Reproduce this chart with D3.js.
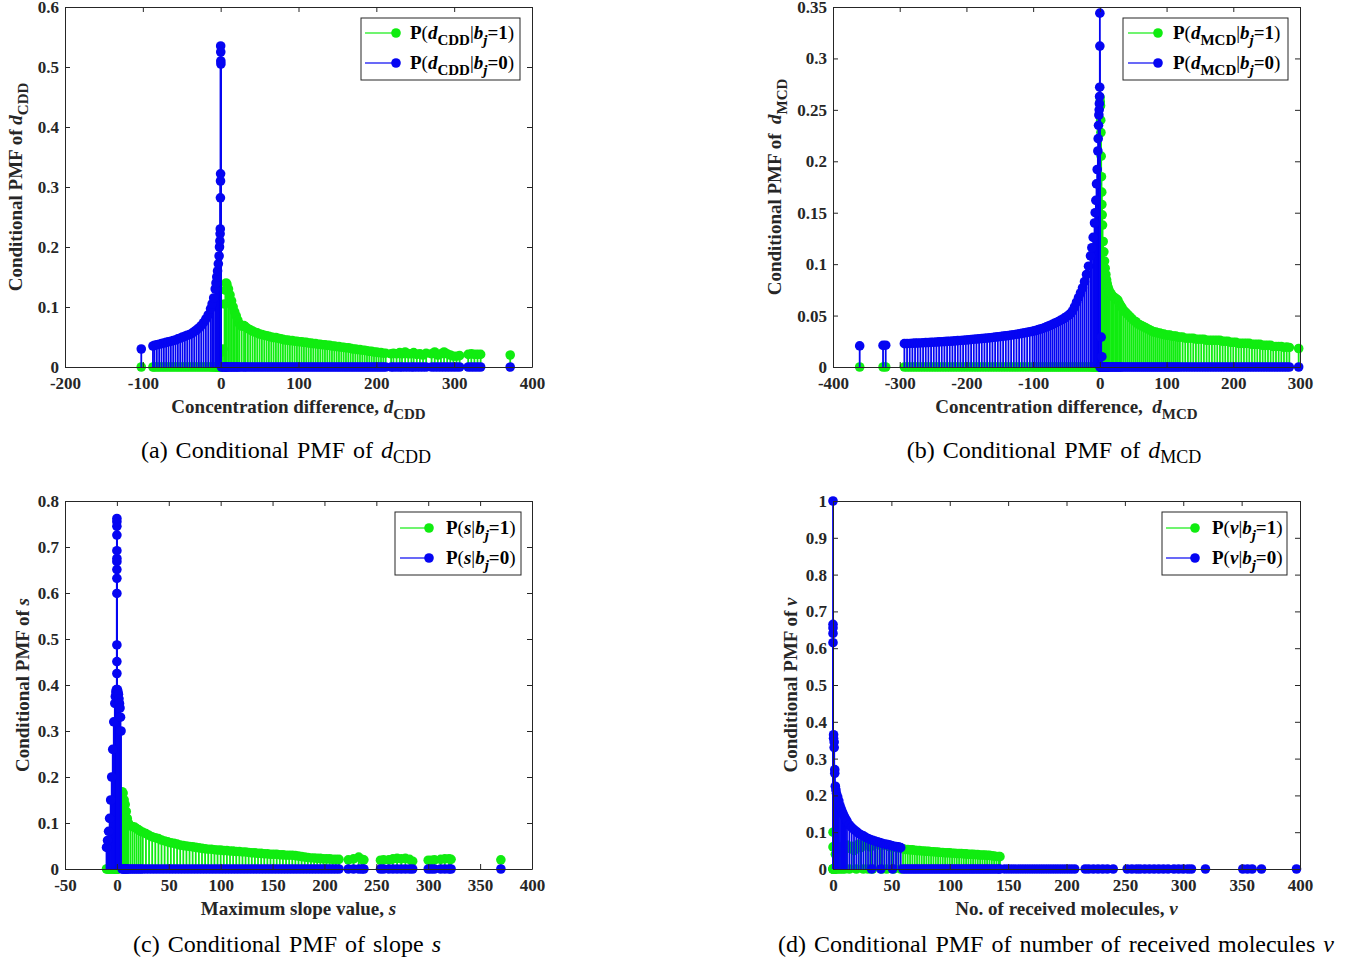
<!DOCTYPE html>
<html>
<head>
<meta charset="utf-8">
<script src="https://cdn.jsdelivr.net/npm/d3@7"></script>
<style>
  html, body { margin: 0; padding: 0; background: #ffffff; overflow: hidden; }
  svg { display: block; }
</style>
</head>
<body>
<script>
// ---------------------------------------------------------------------------
// (a) Concentration difference d_CDD: support, P(d|b=1), P(d|b=0)
// ---------------------------------------------------------------------------
const cddX = [
  -102, -87, -85, -82, -79, -76, -73, -70, -67, -64,
  -61, -58, -55, -52, -49, -46, -43, -40, -37, -34,
  -31, -28, -25, -22, -19, -16, -13, -11, -9, -7,
  -6, -5, -4, -3, -2, -1.5, -1, -0.7, -0.5, -0.3,
  -0.2, -0.1, 0, 0.1, 0.2, 0.3, 1, 3, 5, 6,
  7, 8, 10, 12, 14, 16, 18, 20, 22, 24,
  27, 30, 32, 35, 38, 41, 44, 47, 50, 53,
  56, 59, 62, 65, 68, 71, 74, 77, 80, 83,
  86, 89, 92, 95, 98, 101, 104, 107, 110, 113,
  116, 119, 122, 125, 128, 131, 134, 137, 140, 143,
  146, 149, 152, 155, 158, 161, 164, 167, 170, 173,
  176, 179, 182, 185, 188, 191, 194, 197, 200, 203,
  206, 209, 212, 219, 222, 226, 230, 233, 237, 241,
  245, 248, 252, 256, 260, 264, 271, 275, 279, 283,
  287, 291, 295, 299, 303, 307, 318, 322, 326, 330,
  334, 372
];
const cddOne = [
  0, 0, 0, 0, 0, 0, 0, 0, 0, 0,
  0, 0, 0, 0, 0, 0, 0, 0, 0, 0,
  0, 0, 0, 0, 0, 0, 0, 0, 0, 0,
  0, 0, 0, 0, 0, 0, 0, 0, 0, 0,
  0, 0, 0, 0, 0, 0, 0.025, 0.030, 0.105, 0.128,
  0.140, 0.138, 0.130, 0.120, 0.110, 0.100, 0.092, 0.085, 0.078, 0.072,
  0.068, 0.069, 0.067, 0.064, 0.062, 0.060, 0.058, 0.057, 0.055, 0.054,
  0.053, 0.052, 0.051, 0.050, 0.049, 0.049, 0.048, 0.047, 0.046, 0.045,
  0.045, 0.044, 0.044, 0.043, 0.043, 0.042, 0.042, 0.041, 0.041, 0.040,
  0.040, 0.039, 0.039, 0.038, 0.038, 0.037, 0.037, 0.036, 0.036, 0.035,
  0.035, 0.034, 0.034, 0.033, 0.033, 0.032, 0.032, 0.031, 0.030, 0.030,
  0.029, 0.029, 0.028, 0.028, 0.027, 0.026, 0.026, 0.025, 0.025, 0.024,
  0.024, 0.023, 0.023, 0.022, 0.023, 0.022, 0.024, 0.022, 0.025, 0.022,
  0.022, 0.024, 0.021, 0.022, 0.020, 0.023, 0.022, 0.025, 0.020, 0.022,
  0.025, 0.022, 0.020, 0.018, 0.018, 0.019, 0.021, 0.022, 0.021, 0.021,
  0.021, 0.020
];
const cddZero = [
  0.030, 0.035, 0.036, 0.037, 0.038, 0.039, 0.040, 0.041, 0.042, 0.043,
  0.044, 0.045, 0.047, 0.048, 0.050, 0.051, 0.053, 0.054, 0.056, 0.059,
  0.062, 0.065, 0.069, 0.074, 0.080, 0.087, 0.097, 0.105, 0.115, 0.130,
  0.140, 0.150, 0.160, 0.172, 0.185, 0.200, 0.210, 0.222, 0.230, 0.282,
  0.310, 0.322, 0.535, 0.525, 0.510, 0.505, 0, 0, 0, 0,
  0, 0, 0, 0, 0, 0, 0, 0, 0, 0,
  0, 0, 0, 0, 0, 0, 0, 0, 0, 0,
  0, 0, 0, 0, 0, 0, 0, 0, 0, 0,
  0, 0, 0, 0, 0, 0, 0, 0, 0, 0,
  0, 0, 0, 0, 0, 0, 0, 0, 0, 0,
  0, 0, 0, 0, 0, 0, 0, 0, 0, 0,
  0, 0, 0, 0, 0, 0, 0, 0, 0, 0,
  0, 0, 0, 0, 0, 0, 0, 0, 0, 0,
  0, 0, 0, 0, 0, 0, 0, 0, 0, 0,
  0, 0, 0, 0, 0, 0, 0, 0, 0, 0,
  0, 0
];
const cddXTicks = [-200, -100, 0, 100, 200, 300, 400];
const cddYTicks = [0, 0.1, 0.2, 0.3, 0.4, 0.5, 0.6];

// ---------------------------------------------------------------------------
// (b) Concentration difference d_MCD
// ---------------------------------------------------------------------------
const mcdX = [
  -360, -325, -321, -293, -289, -285, -281, -277, -273, -269,
  -265, -261, -257, -253, -249, -245, -241, -237, -233, -229,
  -225, -221, -217, -213, -209, -205, -201, -197, -193, -189,
  -185, -181, -177, -173, -169, -165, -161, -157, -153, -149,
  -145, -141, -137, -133, -129, -125, -121, -117, -113, -109,
  -105, -101, -98, -95, -92, -89, -86, -83, -80, -77,
  -74, -71, -68, -65, -62, -59, -56, -53, -50, -47,
  -44, -41, -38, -35, -32, -29, -26, -23, -20, -17,
  -14, -12, -10, -8, -7, -6, -5, -4, -3, -2.5,
  -2, -1.5, -1, -0.7, -0.4, -0.2, 0, 0, 0.3, 0.6,
  1, 1.3, 1.6, 2, 2.4, 2.8, 3, 3.5, 4, 5,
  6, 7, 8, 9, 10, 11, 12, 13, 15, 17,
  19, 21, 23, 25, 27, 29, 31, 33, 36, 39,
  42, 45, 48, 51, 54, 57, 60, 63, 66, 69,
  72, 75, 78, 81, 84, 87, 90, 93, 96, 99,
  102, 105, 108, 111, 114, 117, 120, 124, 128, 132,
  136, 140, 144, 148, 152, 156, 160, 164, 168, 172,
  176, 180, 184, 188, 192, 196, 200, 204, 208, 212,
  216, 220, 224, 228, 232, 236, 240, 244, 248, 252,
  256, 260, 264, 268, 272, 276, 280, 284, 298
];
const mcdOne = [
  0, 0, 0, 0, 0, 0, 0, 0, 0, 0,
  0, 0, 0, 0, 0, 0, 0, 0, 0, 0,
  0, 0, 0, 0, 0, 0, 0, 0, 0, 0,
  0, 0, 0, 0, 0, 0, 0, 0, 0, 0,
  0, 0, 0, 0, 0, 0, 0, 0, 0, 0,
  0, 0, 0, 0, 0, 0, 0, 0, 0, 0,
  0, 0, 0, 0, 0, 0, 0, 0, 0, 0,
  0, 0, 0, 0, 0, 0, 0, 0, 0, 0,
  0, 0, 0, 0, 0, 0, 0, 0, 0, 0,
  0, 0, 0, 0, 0, 0, 0, 0, 0.262, 0.258,
  0.254, 0.240, 0.228, 0.205, 0.185, 0.170, 0.158, 0.148, 0.138, 0.122,
  0.112, 0.103, 0.096, 0.090, 0.085, 0.081, 0.078, 0.076, 0.073, 0.071,
  0.069, 0.068, 0.067, 0.066, 0.065, 0.062, 0.060, 0.058, 0.055, 0.053,
  0.051, 0.049, 0.047, 0.045, 0.044, 0.042, 0.041, 0.040, 0.039, 0.038,
  0.037, 0.036, 0.035, 0.034, 0.034, 0.033, 0.033, 0.032, 0.032, 0.031,
  0.031, 0.031, 0.030, 0.030, 0.030, 0.029, 0.029, 0.029, 0.028, 0.028,
  0.028, 0.028, 0.027, 0.027, 0.027, 0.027, 0.026, 0.026, 0.026, 0.026,
  0.026, 0.026, 0.025, 0.025, 0.025, 0.024, 0.024, 0.024, 0.023, 0.023,
  0.023, 0.023, 0.023, 0.022, 0.022, 0.022, 0.022, 0.021, 0.021, 0.021,
  0.021, 0.020, 0.020, 0.020, 0.020, 0.019, 0.0195, 0.019, 0.018
];
const mcdZero = [
  0.0205, 0.0210, 0.0212, 0.0227, 0.0228, 0.0229, 0.0231, 0.0232, 0.0233, 0.0234,
  0.0236, 0.0237, 0.0238, 0.0240, 0.0241, 0.0243, 0.0244, 0.0246, 0.0247, 0.0249,
  0.0250, 0.0252, 0.0254, 0.0256, 0.0258, 0.0260, 0.0262, 0.0265, 0.0267, 0.0270,
  0.0272, 0.0274, 0.0277, 0.0279, 0.0282, 0.0284, 0.0287, 0.0290, 0.0293, 0.0296,
  0.0300, 0.0303, 0.0306, 0.0310, 0.0314, 0.0318, 0.0322, 0.0327, 0.0332, 0.0337,
  0.0342, 0.0347, 0.0352, 0.0357, 0.0363, 0.0369, 0.0375, 0.0382, 0.0390, 0.0398,
  0.0406, 0.0415, 0.0424, 0.0433, 0.0443, 0.0453, 0.0464, 0.0476, 0.0489, 0.0503,
  0.0520, 0.0545, 0.0585, 0.0630, 0.0675, 0.0720, 0.0770, 0.0830, 0.0900, 0.0980,
  0.108, 0.116, 0.126, 0.140, 0.150, 0.162, 0.178, 0.192, 0.210, 0.222,
  0.235, 0.245, 0.250, 0.256, 0.263, 0.272, 0.312, 0.344, 0, 0,
  0, 0, 0, 0.029, 0, 0, 0.010, 0, 0, 0,
  0, 0, 0, 0, 0, 0, 0, 0, 0, 0,
  0, 0, 0, 0, 0, 0, 0, 0, 0, 0,
  0, 0, 0, 0, 0, 0, 0, 0, 0, 0,
  0, 0, 0, 0, 0, 0, 0, 0, 0, 0,
  0, 0, 0, 0, 0, 0, 0, 0, 0, 0,
  0, 0, 0, 0, 0, 0, 0, 0, 0, 0,
  0, 0, 0, 0, 0, 0, 0, 0, 0, 0,
  0, 0, 0, 0, 0, 0, 0, 0, 0, 0,
  0, 0, 0, 0, 0, 0, 0, 0, 0
];
const mcdXTicks = [-400, -300, -200, -100, 0, 100, 200, 300];
const mcdYTicks = [0, 0.05, 0.1, 0.15, 0.2, 0.25, 0.3, 0.35];

// ---------------------------------------------------------------------------
// (c) Maximum slope value s
// ---------------------------------------------------------------------------
const slopeX = [
  -10, -9, -8, -7, -6, -5, -4, -3, -2, -1.5,
  -1, -0.5, 0, 0, 0, 0, 0, 0, 0, 0,
  0, 0, 0, 0, 0, 0.5, 1, 1.5, 2, 2.5,
  3, 3.5, 4, 5, 6, 7, 8, 9, 10, 11,
  13, 15, 17, 19, 21, 23, 25, 28, 31, 34,
  37, 40, 43, 46, 49, 52, 55, 58, 61, 64,
  67, 70, 73, 76, 79, 82, 85, 88, 91, 94,
  97, 100, 103, 106, 109, 112, 115, 118, 121, 124,
  127, 130, 133, 136, 139, 142, 145, 148, 151, 154,
  157, 160, 163, 166, 169, 172, 175, 178, 181, 184,
  187, 190, 193, 196, 199, 202, 205, 208, 211, 214,
  223, 228, 233, 236, 238, 254, 257, 262, 266, 270,
  274, 278, 282, 285, 300, 303, 306, 312, 316, 320,
  322, 370
];
const slopeOne = [
  0, 0, 0, 0, 0, 0, 0, 0, 0, 0,
  0, 0, 0, 0, 0, 0, 0, 0, 0, 0,
  0, 0, 0, 0, 0, 0, 0.010, 0.015, 0.030, 0.060,
  0.100, 0.130, 0.160, 0.168, 0.165, 0.150, 0.140, 0.125, 0.110, 0.100,
  0.094, 0.092, 0.091, 0.088, 0.085, 0.082, 0.080, 0.077, 0.073, 0.070,
  0.068, 0.066, 0.063, 0.061, 0.059, 0.057, 0.056, 0.054, 0.052, 0.051,
  0.050, 0.049, 0.048, 0.047, 0.046, 0.045, 0.044, 0.043, 0.043, 0.042,
  0.041, 0.041, 0.040, 0.040, 0.039, 0.039, 0.038, 0.038, 0.037, 0.037,
  0.036, 0.035, 0.035, 0.034, 0.034, 0.033, 0.033, 0.032, 0.032, 0.032,
  0.031, 0.031, 0.030, 0.030, 0.030, 0.029, 0.028, 0.027, 0.026, 0.025,
  0.024, 0.024, 0.023, 0.023, 0.022, 0.022, 0.022, 0.021, 0.021, 0.021,
  0.020, 0.022, 0.026, 0.021, 0.020, 0.019, 0.020, 0.020, 0.022, 0.023,
  0.022, 0.023, 0.021, 0.017, 0.019, 0.019, 0.020, 0.021, 0.022, 0.022,
  0.021, 0.020
];
const slopeZero = [
  0.047, 0.062, 0.082, 0.110, 0.150, 0.200, 0.260, 0.320, 0.360, 0.375,
  0.385, 0.390, 0.425, 0.451, 0.487, 0.599, 0.632, 0.651, 0.668, 0.675,
  0.692, 0.726, 0.745, 0.755, 0.762, 0.390, 0.385, 0.380, 0.370, 0.360,
  0.350, 0.330, 0.300, 0, 0, 0, 0, 0, 0, 0,
  0, 0, 0, 0, 0, 0, 0, 0, 0, 0,
  0, 0, 0, 0, 0, 0, 0, 0, 0, 0,
  0, 0, 0, 0, 0, 0, 0, 0, 0, 0,
  0, 0, 0, 0, 0, 0, 0, 0, 0, 0,
  0, 0, 0, 0, 0, 0, 0, 0, 0, 0,
  0, 0, 0, 0, 0, 0, 0, 0, 0, 0,
  0, 0, 0, 0, 0, 0, 0, 0, 0, 0,
  0, 0, 0, 0, 0, 0, 0, 0, 0, 0,
  0, 0, 0, 0, 0, 0, 0, 0, 0, 0,
  0, 0
];
const slopeXTicks = [-50, 0, 50, 100, 150, 200, 250, 300, 350, 400];
const slopeYTicks = [0, 0.1, 0.2, 0.3, 0.4, 0.5, 0.6, 0.7, 0.8];

// ---------------------------------------------------------------------------
// (d) Number of received molecules v (null: no point for that series)
// ---------------------------------------------------------------------------
const molX = [
  0, 0, 0, 0, 0, 0.5, 0.5, 1, 1, 1.5,
  1.5, 2, 2.5, 3, 4, 5, 6, 7, 8, 9,
  10, 11, 12, 14, 16, 18, 20, 22, 24, 26,
  28, 30, 32, 33, 34, 36, 38, 40, 41, 42,
  44, 46, 48, 50, 51, 52, 54, 56, 58, 60,
  62, 64, 66, 68, 70, 72, 74, 76, 78, 80,
  82, 84, 86, 88, 90, 92, 94, 96, 98, 100,
  102, 104, 106, 108, 110, 112, 114, 116, 118, 120,
  122, 124, 126, 128, 130, 132, 134, 136, 138, 140,
  142, 143, 147, 150, 153, 156, 159, 162, 165, 168,
  171, 174, 177, 180, 183, 186, 189, 192, 195, 198,
  201, 204, 207, 216, 219, 223, 227, 231, 235, 240,
  252, 256, 260, 263, 267, 271, 275, 279, 283, 287,
  292, 296, 300, 304, 307, 319, 351, 355, 359, 367,
  397
];
const molOne = [
  0.100, 0.060, 0, 0, 0, 0, 0, 0, 0, 0,
  0, 0.040, 0, 0.055, 0, 0.045, 0, 0.060, 0, 0.050,
  0, 0.055, 0.065, 0, 0.062, 0.050, 0, 0.068, 0.058, 0,
  0.066, 0, 0.060, 0.068, 0, 0.070, 0.069, 0.065, 0.066, 0,
  0.064, 0, 0.061, 0.060, 0.062, 0, 0.058, 0.057, 0, 0.055,
  0.053, 0.053, 0.052, 0.052, 0.051, 0.050, 0.050, 0.049, 0.049, 0.048,
  0.048, 0.047, 0.047, 0.046, 0.046, 0.045, 0.045, 0.044, 0.044, 0.044,
  0.043, 0.043, 0.042, 0.042, 0.042, 0.041, 0.041, 0.040, 0.040, 0.040,
  0.039, 0.039, 0.038, 0.038, 0.038, 0.037, 0.037, 0.036, 0.035, 0.034,
  0.034, 0.0335, null, null, null, null, null, null, null, null,
  null, null, null, null, null, null, null, null, null, null,
  null, null, null, null, null, null, null, null, null, null,
  null, null, null, null, null, null, null, null, null, null,
  null, null, null, null, null, null, null, null, null, null,
  null
];
const molZero = [
  1.0, 0.665, 0.655, 0.640, 0.615, 0.365, 0.355, 0.345, 0.330, 0.270,
  0.260, 0.225, 0.215, 0.205, 0.196, 0.185, 0.172, 0.163, 0.155, 0.148,
  0.141, 0.135, 0.130, 0.120, 0.113, 0.107, 0.102, 0.097, 0.093, 0.090,
  0.086, 0.083, 0.080, 0, 0.078, 0.076, 0.074, 0.072, 0, 0.070,
  0.068, 0.067, 0.066, 0.064, 0, 0.062, 0.061, 0.060, 0.058, 0,
  0, 0, 0, 0, 0, 0, 0, 0, 0, 0,
  0, 0, 0, 0, 0, 0, 0, 0, 0, 0,
  0, 0, 0, 0, 0, 0, 0, 0, 0, 0,
  0, 0, 0, 0, 0, 0, 0, 0, 0, 0,
  0, 0, 0, 0, 0, 0, 0, 0, 0, 0,
  0, 0, 0, 0, 0, 0, 0, 0, 0, 0,
  0, 0, 0, 0, 0, 0, 0, 0, 0, 0,
  0, 0, 0, 0, 0, 0, 0, 0, 0, 0,
  0, 0, 0, 0, 0, 0, 0, 0, 0, 0,
  0
];
const molXTicks = [0, 50, 100, 150, 200, 250, 300, 350, 400];
const molYTicks = [0, 0.1, 0.2, 0.3, 0.4, 0.5, 0.6, 0.7, 0.8, 0.9, 1];

// ---------------------------------------------------------------------------
// Drawing
// ---------------------------------------------------------------------------
const GREEN = "#10ec10";
const BLUE = "#0505f2";
const AXIS = "#262626";
const SERIF = "'Liberation Serif','Times New Roman',Times,serif";
const STEM_W = 1.8;
const MARK_R = 4.8;

const svg = d3.select("body").append("svg")
  .attr("width", 1358).attr("height", 964)
  .style("background", "#ffffff");

// Text made of styled runs; `sub` lowers a run by that many px.
function rich(parent, x, y, parts, opts) {
  const t = parent.append("text")
    .attr("x", x).attr("y", y)
    .attr("font-family", SERIF)
    .attr("font-size", opts.size)
    .attr("font-weight", opts.weight || "normal")
    .attr("fill", opts.fill || "#000")
    .attr("text-anchor", opts.anchor || "start")
    .style("white-space", "pre");
  if (opts.wordSpacing) t.attr("word-spacing", opts.wordSpacing);
  if (opts.rotate) t.attr("transform", `rotate(-90,${x},${y})`);
  let shift = 0;
  parts.forEach(p => {
    const s = t.append("tspan").text(p.t);
    if (p.w) s.attr("font-weight", p.w);
    if (p.i) s.attr("font-style", "italic");
    const want = p.sub || 0;
    if (want !== shift) { s.attr("dy", want - shift); shift = want; }
    if (p.fs) s.attr("font-size", p.fs);
  });
  return t;
}

function legendRuns(sym, symItalic, sub, val) {
  const runs = [
    { t: "P", w: "bold" },
    { t: "(", w: "normal" },
    { t: sym, w: "bold", i: symItalic }
  ];
  if (sub) runs.push({ t: sub, w: "bold", sub: 6, fs: 15 });
  runs.push({ t: "|", w: "normal" });
  runs.push({ t: "b", w: "bold", i: true });
  runs.push({ t: "j", w: "bold", i: true, sub: 6, fs: 15 });
  runs.push({ t: "=" + val, w: "bold" });
  runs.push({ t: ")", w: "normal" });
  return runs;
}

function panel(cfg) {
  const g = svg.append("g");
  const x = d3.scaleLinear().domain(cfg.xDomain).range([cfg.left, cfg.right]);
  const y = d3.scaleLinear().domain(cfg.yDomain).range([cfg.bottom, cfg.top]);

  function series(vals, color) {
    const pts = cfg.xs.map((xv, i) => ({ x: xv, v: vals[i] }))
      .filter(d => d.v !== null && d.v !== undefined);
    const s = g.append("g");
    s.selectAll("line").data(pts).join("line")
      .attr("x1", d => x(d.x)).attr("x2", d => x(d.x))
      .attr("y1", y(0)).attr("y2", d => y(d.v))
      .attr("stroke", color).attr("stroke-width", STEM_W);
    s.selectAll("circle").data(pts).join("circle")
      .attr("cx", d => x(d.x)).attr("cy", d => y(d.v))
      .attr("r", MARK_R).attr("fill", color);
  }
  series(cfg.one, GREEN);
  series(cfg.zero, BLUE);

  // box axes with inward ticks on all four sides
  const fmt = d => String(d);
  const blank = () => "";
  const style = sel => {
    sel.attr("font-family", SERIF).attr("font-size", 17).attr("font-weight", "bold");
    sel.selectAll(".domain").attr("stroke", AXIS).attr("stroke-width", 1);
    sel.selectAll(".tick line").attr("stroke", AXIS).attr("stroke-width", 1);
    sel.selectAll(".tick text").attr("fill", AXIS);
  };
  g.append("g").attr("transform", `translate(0,${cfg.bottom})`)
    .call(d3.axisBottom(x).tickValues(cfg.xTicks).tickFormat(fmt)
      .tickSize(-5).tickSizeOuter(0).tickPadding(10)).call(style);
  g.append("g").attr("transform", `translate(0,${cfg.top})`)
    .call(d3.axisTop(x).tickValues(cfg.xTicks).tickFormat(blank)
      .tickSize(-5).tickSizeOuter(0)).call(style);
  g.append("g").attr("transform", `translate(${cfg.left},0)`)
    .call(d3.axisLeft(y).tickValues(cfg.yTicks).tickFormat(fmt)
      .tickSize(-5).tickSizeOuter(0).tickPadding(6)).call(style);
  g.append("g").attr("transform", `translate(${cfg.right},0)`)
    .call(d3.axisRight(y).tickValues(cfg.yTicks).tickFormat(blank)
      .tickSize(-5).tickSizeOuter(0)).call(style);

  // axis titles
  rich(g, (cfg.left + cfg.right) / 2, cfg.bottom + 46, cfg.xTitle,
    { size: 19, weight: "bold", fill: AXIS, anchor: "middle" });
  rich(g, cfg.yTitleX, (cfg.top + cfg.bottom) / 2, cfg.yTitle,
    { size: 19, weight: "bold", fill: AXIS, anchor: "middle", rotate: true });

  // legend
  const L = cfg.legend;
  g.append("rect").attr("x", L.x).attr("y", L.y).attr("width", L.w).attr("height", L.h)
    .attr("fill", "#ffffff").attr("stroke", AXIS).attr("stroke-width", 1);
  [[GREEN, cfg.legendOne], [BLUE, cfg.legendZero]].forEach(([c, runs], k) => {
    const ry = L.rows[k];
    g.append("line").attr("x1", L.x1).attr("x2", L.x2).attr("y1", ry).attr("y2", ry)
      .attr("stroke", c).attr("stroke-width", 1.2);
    g.append("circle").attr("cx", L.x2).attr("cy", ry).attr("r", MARK_R).attr("fill", c);
    rich(g, L.tx, ry + 6, runs, { size: 19, weight: "bold", fill: "#000" });
  });

  // caption
  rich(g, cfg.capX, cfg.capY, cfg.caption,
    { size: 24, fill: "#000", anchor: "middle", wordSpacing: 2 });
}

panel({
  xs: cddX, one: cddOne, zero: cddZero,
  xDomain: [-200, 400], yDomain: [0, 0.6], xTicks: cddXTicks, yTicks: cddYTicks,
  left: 65, right: 532, top: 7, bottom: 367,
  xTitle: [{ t: "Concentration difference, " }, { t: "d", i: true }, { t: "CDD", sub: 6, fs: 15 }],
  yTitle: [{ t: "Conditional PMF of " }, { t: "d", i: true }, { t: "CDD", sub: 6, fs: 15 }],
  yTitleX: 22,
  legend: { x: 361, y: 18, w: 159, h: 62, rows: [33, 63], x1: 365, x2: 396, tx: 410 },
  legendOne: legendRuns("d", true, "CDD", 1),
  legendZero: legendRuns("d", true, "CDD", 0),
  caption: [{ t: "(a) Conditional PMF of " }, { t: "d", i: true }, { t: "CDD", sub: 5, fs: 18 }],
  capX: 286, capY: 458
});

panel({
  xs: mcdX, one: mcdOne, zero: mcdZero,
  xDomain: [-400, 300], yDomain: [0, 0.35], xTicks: mcdXTicks, yTicks: mcdYTicks,
  left: 833, right: 1300, top: 7, bottom: 367,
  xTitle: [{ t: "Concentration difference,  " }, { t: "d", i: true }, { t: "MCD", sub: 6, fs: 15 }],
  yTitle: [{ t: "Conditional PMF of  " }, { t: "d", i: true }, { t: "MCD", sub: 6, fs: 15 }],
  yTitleX: 781,
  legend: { x: 1123, y: 18, w: 165, h: 62, rows: [33, 63], x1: 1128, x2: 1158, tx: 1173 },
  legendOne: legendRuns("d", true, "MCD", 1),
  legendZero: legendRuns("d", true, "MCD", 0),
  caption: [{ t: "(b) Conditional PMF of " }, { t: "d", i: true }, { t: "MCD", sub: 5, fs: 18 }],
  capX: 1054, capY: 458
});

panel({
  xs: slopeX, one: slopeOne, zero: slopeZero,
  xDomain: [-50, 400], yDomain: [0, 0.8], xTicks: slopeXTicks, yTicks: slopeYTicks,
  left: 65, right: 532, top: 501, bottom: 869,
  xTitle: [{ t: "Maximum slope value, " }, { t: "s", i: true }],
  yTitle: [{ t: "Conditional PMF of " }, { t: "s", i: true }],
  yTitleX: 29,
  legend: { x: 395, y: 512, w: 126, h: 63, rows: [528, 558], x1: 400, x2: 429, tx: 446 },
  legendOne: legendRuns("s", true, null, 1),
  legendZero: legendRuns("s", true, null, 0),
  caption: [{ t: "(c) Conditional PMF of slope " }, { t: "s", i: true }],
  capX: 287, capY: 952
});

panel({
  xs: molX, one: molOne, zero: molZero,
  xDomain: [0, 400], yDomain: [0, 1], xTicks: molXTicks, yTicks: molYTicks,
  left: 833, right: 1300, top: 501, bottom: 869,
  xTitle: [{ t: "No. of received molecules, " }, { t: "v", i: true }],
  yTitle: [{ t: "Conditional PMF of " }, { t: "v", i: true }],
  yTitleX: 797,
  legend: { x: 1162, y: 512, w: 125, h: 63, rows: [528, 558], x1: 1166, x2: 1195, tx: 1212 },
  legendOne: legendRuns("v", true, null, 1),
  legendZero: legendRuns("v", true, null, 0),
  caption: [{ t: "(d) Conditional PMF of number of received molecules " }, { t: "v", i: true }],
  capX: 1056, capY: 952
});
</script>
</body>
</html>
